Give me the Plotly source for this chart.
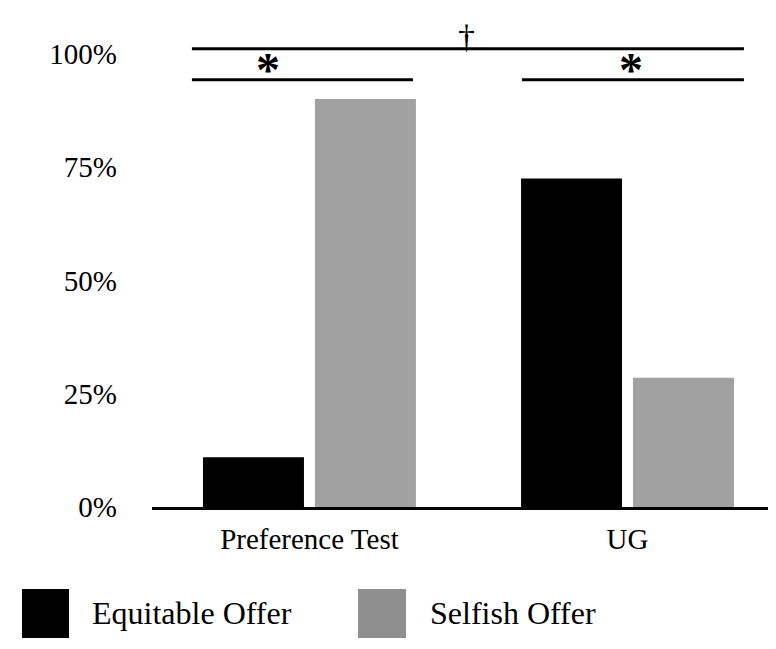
import plotly.graph_objects as go

categories = ["Preference Test", "UG"]
series_names = ["Equitable Offer", "Selfish Offer"]
equitable = [11, 72.5]
selfish = [90, 28.5]
tick_vals = [0, 25, 50, 75, 100]
tick_text = ["0%", "25%", "50%", "75%", "100%"]
bar_colors = ["#000000", "#A0A1A0"]
legend_colors = ["#000000", "#8F8F8F"]

FONT = "'Liberation Serif', 'Times New Roman', Times, serif"

fig = go.Figure()
fig.add_trace(go.Bar(x=categories, y=equitable, name=series_names[0],
                     marker=dict(color=bar_colors[0], line=dict(width=0))))
fig.add_trace(go.Bar(x=categories, y=selfish, name=series_names[1],
                     marker=dict(color=bar_colors[1], line=dict(width=0))))

# plot area in pixels: x 144..776, y 10..499
L, R, T, B = 144, 0, 10, 150
W, H = 776, 649
pw, ph = W - L - R, H - T - B

def px(x):
    return (x - L) / pw

def py(y):
    return (H - B - y) / ph

shapes = []
annotations = []
# significance brackets (data coords)
lw = 3
for x0, x1, y in [(-0.3695, 1.366, 101.1), (-0.3695, 0.3255, 94.3), (0.668, 1.366, 94.3)]:
    shapes.append(dict(type="line", xref="x", yref="y", x0=x0, x1=x1, y0=y, y1=y,
                       line=dict(color="black", width=lw)))
annotations.append(dict(xref="x", yref="y", x=0.495, y=101.1, text="†", showarrow=False,
                        yanchor="bottom", yshift=-8,
                        font=dict(family=FONT, size=34, color="black")))
for xs in [-0.1305, 1.011]:
    annotations.append(dict(xref="x", yref="y", x=xs, y=94.3, text="<b>*</b>", showarrow=False,
                            yanchor="bottom", yshift=-18,
                            font=dict(family=FONT, size=48, color="black")))

# custom legend
leg = [(14, 61, 82), (350, 398, 420)]
for (x0, x1, tx), name, col in zip(leg, series_names, legend_colors):
    shapes.append(dict(type="rect", xref="paper", yref="paper", x0=px(x0), x1=px(x1),
                       y0=py(630), y1=py(581), fillcolor=col, line=dict(width=0)))
    annotations.append(dict(xref="paper", yref="paper", x=px(tx), y=py(605), text=name,
                            showarrow=False, xanchor="left", yanchor="middle",
                            font=dict(family=FONT, size=32, color="black")))

fig.update_layout(
    width=W, height=H,
    margin=dict(l=L, r=R, t=T, b=B, pad=0),
    paper_bgcolor="white", plot_bgcolor="white",
    barmode="group", bargap=0.296, bargroupgap=0.098,
    showlegend=False,
    shapes=shapes, annotations=annotations,
    font=dict(family=FONT, color="black"),
)
fig.update_xaxes(range=[-0.495, 1.492], showline=True, linecolor="black", linewidth=3,
                 ticks="", showgrid=False, tickfont=dict(family=FONT, size=29, color="black"),
                 ticklabelstandoff=4)
fig.update_yaxes(range=[0, 107.9], tickvals=tick_vals, ticktext=tick_text, showgrid=False,
                 zeroline=False, showline=False, ticks="",
                 tickfont=dict(family=FONT, size=29, color="black"), ticklabelstandoff=34)

fig.write_html("out.html")
